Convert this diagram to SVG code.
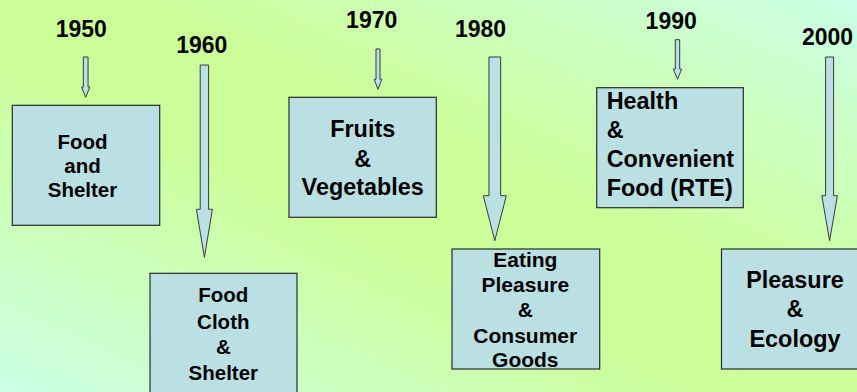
<svg xmlns="http://www.w3.org/2000/svg" width="857" height="392" viewBox="0 0 857 392">
  <defs>
    <linearGradient id="bg" x1="0" y1="1" x2="1" y2="0">
      <stop offset="0" stop-color="#ccffe6"/>
      <stop offset="0.42" stop-color="#ccff99"/>
      <stop offset="0.58" stop-color="#ccff99"/>
      <stop offset="1" stop-color="#ccffe6"/>
    </linearGradient>
  </defs>
  <style>
    .box { fill: #bbe0e3; stroke: #2b2b2b; stroke-width: 1.2; }
    .arr { fill: #bbe0e3; stroke: #3a3a3a; stroke-width: 1; }
    text { font-family: "Liberation Sans", Arial, sans-serif; font-weight: bold; fill: #000; }
    .yr { font-size: 23px; text-anchor: middle; }
    .c { text-anchor: middle; }
    .s20 { font-size: 20.5px; }
    .s21 { font-size: 21px; }
    .s23 { font-size: 23.4px; }
  </style>
  <rect x="0" y="0" width="857" height="392" fill="url(#bg)"/>

  <g id="connectors">
    <polygon class="arr" points="83.35,57 88.05,57 88.05,87 89.85,87 85.7,97.3 81.55,87 83.35,87"/>
    <polygon class="arr" points="200.2,65 208.6,65 208.6,209.3 212.4,209.3 204.4,257.3 196.4,209.3 200.2,209.3"/>
    <polygon class="arr" points="376,49 380,49 380,79.3 381.85,79.3 378,89.3 374.15,79.3 376,79.3"/>
    <polygon class="arr" points="488.95,57 500.65,57 500.65,195.7 506.3,195.7 494.8,240.7 483.3,195.7 488.95,195.7"/>
    <polygon class="arr" points="675.3,39.7 679.7,39.7 679.7,69 681.7,69 677.5,79.3 673.3,69 675.3,69"/>
    <polygon class="arr" points="825.6,57 833.6,57 833.6,195.7 837.4,195.7 829.6,240.7 821.8,195.7 825.6,195.7"/>
  </g>

  <g id="y1950"><text class="yr" x="81.3" y="36.7">1950</text></g>
  <g id="y1960"><text class="yr" x="201.8" y="53.3">1960</text></g>
  <g id="y1970"><text class="yr" x="371.7" y="28.3">1970</text></g>
  <g id="y1980"><text class="yr" x="480.5" y="36.7">1980</text></g>
  <g id="y1990"><text class="yr" x="671.2" y="29">1990</text></g>
  <g id="y2000"><text class="yr" x="827.5" y="45">2000</text></g>

  <g id="n1950">
    <rect class="box" x="12.3" y="105.3" width="147.4" height="120"/>
    <text class="c s20" x="82.5" y="149">Food</text>
    <text class="c s20" x="82.5" y="173.3">and</text>
    <text class="c s20" x="82.5" y="196.7">Shelter</text>
  </g>

  <g id="n1960">
    <rect class="box" x="150" y="273.3" width="147" height="125"/>
    <text class="c s20" x="223.3" y="302.3">Food</text>
    <text class="c s20" x="223.3" y="329">Cloth</text>
    <text class="c s20" x="223.3" y="354">&amp;</text>
    <text class="c s20" x="223.3" y="380">Shelter</text>
  </g>

  <g id="n1970">
    <rect class="box" x="289" y="97.3" width="147.3" height="120"/>
    <text class="c s23" x="362.7" y="136.7">Fruits</text>
    <text class="c s23" x="362.7" y="166.7">&amp;</text>
    <text class="c s23" x="362.7" y="195">Vegetables</text>
  </g>

  <g id="n1980">
    <rect class="box" x="452" y="249" width="147.7" height="120"/>
    <text class="c s21" x="525.3" y="266.7">Eating</text>
    <text class="c s21" x="525.3" y="292">Pleasure</text>
    <text class="c s21" x="525.3" y="316.7">&amp;</text>
    <text class="c s21" x="525.3" y="343.3">Consumer</text>
    <text class="c s21" x="525.3" y="366.7">Goods</text>
  </g>

  <g id="n1990">
    <rect class="box" x="596.7" y="87.7" width="146.6" height="120"/>
    <text class="s23" x="606.7" y="109">Health</text>
    <text class="s23" x="606.7" y="137.7">&amp;</text>
    <text class="s23" x="606.7" y="166.7">Convenient</text>
    <text class="s23" x="606.7" y="195.7">Food (RTE)</text>
  </g>

  <g id="n2000">
    <rect class="box" x="721.5" y="249" width="148" height="120"/>
    <text class="c s23" x="795" y="288.3">Pleasure</text>
    <text class="c s23" x="795" y="316.7">&amp;</text>
    <text class="c s23" x="795" y="346.7">Ecology</text>
  </g>
</svg>
